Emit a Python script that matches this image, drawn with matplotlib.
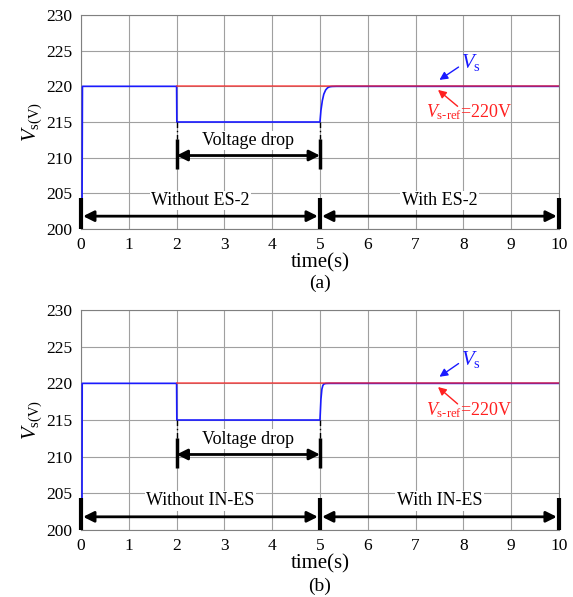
import numpy as np
import matplotlib
matplotlib.use("Agg")
import matplotlib.pyplot as plt

plt.rcParams['font.family'] = ['Liberation Serif', 'DejaVu Serif']
plt.rcParams['mathtext.fontset'] = 'custom'
plt.rcParams['mathtext.rm'] = 'Liberation Serif'
plt.rcParams['mathtext.it'] = 'Liberation Serif:italic'

# Vs waveform, panel (a) - slower recovery after t=5
t_a = [0.02, 0.03, 2.0, 2.005, 5.0, 5.02, 5.05, 5.08, 5.12, 5.16, 5.2, 5.25, 5.35, 10]
v_a = [200, 220, 220, 215, 215, 216.6, 218.0, 218.9, 219.5, 219.8, 219.93, 219.98, 220, 220]
# Vs waveform, panel (b) - faster recovery
t_b = [0.02, 0.025, 2.0, 2.005, 5.0, 5.02, 5.04, 5.06, 5.08, 5.12, 5.2, 10]
v_b = [200, 220, 220, 215, 215, 217.8, 219.2, 219.7, 219.9, 219.98, 220, 220]
# reference voltage
t_ref = [2, 10]
v_ref = [220, 220]

xticks = list(range(0, 11))
yticks = [200, 205, 210, 215, 220, 225, 230]
panels = [
    ("(a)", t_a, v_a, "Without ES-2", "With ES-2"),
    ("(b)", t_b, v_b, "Without IN-ES", "With IN-ES"),
]

fig = plt.figure(figsize=(5.73, 5.97), dpi=100)
rects = [[0.1414, 0.6164, 0.834, 0.3585], [0.1414, 0.1122, 0.834, 0.3685]]

for rect, (tag, t, v, left_txt, right_txt) in zip(rects, panels):
    ax = fig.add_axes(rect)
    ax.plot(t, v, color='#1a1aff', lw=1.2, zorder=3)
    ax.plot(t_ref, v_ref, color='#ff2020', lw=1.3, alpha=0.65, zorder=4)
    ax.set_xlim(0, 10)
    ax.set_ylim(200, 230)
    ax.set_xticks(xticks)
    ax.set_yticks(yticks)
    ax.grid(True, color='#a0a0a0', lw=0.8)
    ax.set_axisbelow(True)
    ax.tick_params(length=0, labelsize=12.5, pad=6)
    for s in ax.spines.values():
        s.set_color('#808080')
        s.set_linewidth(0.8)
    ax.set_ylabel(r'$V_{\mathrm{s(V)}}$', fontsize=15, labelpad=2)
    ax.set_xlabel('time(s)', fontsize=15, labelpad=0)
    ax.text(0.5, -0.255, tag, transform=ax.transAxes, ha='center', va='center', fontsize=14)

    # voltage drop annotation
    for x in (2, 5):
        ax.plot([x, x], [215, 212.6], color='k', lw=1.0, ls=(0, (4, 2, 1, 2)), zorder=5)
        ax.plot([x, x], [212.6, 208.4], color='k', lw=2.5, solid_capstyle='butt', zorder=5)
    ax.annotate('', xy=(5, 210.3), xytext=(2, 210.3),
                arrowprops=dict(arrowstyle='<|-|>', color='k', lw=2, mutation_scale=16,
                                shrinkA=0, shrinkB=0), zorder=6)
    ax.text(3.5, 212.4, 'Voltage drop', ha='center', va='center', fontsize=13,
            bbox=dict(facecolor='white', edgecolor='none', pad=1), zorder=6)

    # with / without annotation
    for x in (0, 5, 10):
        ax.plot([x, x], [200, 204.4], color='k', lw=3, solid_capstyle='butt',
                clip_on=False, zorder=7)
    for x0, x1 in ((0, 5), (5, 10)):
        ax.annotate('', xy=(x1, 201.8), xytext=(x0, 201.8),
                    arrowprops=dict(arrowstyle='<|-|>', color='k', lw=2, mutation_scale=16,
                                    shrinkA=1.5, shrinkB=1.5), zorder=6)
    ax.text(2.5, 204.0, left_txt, ha='center', va='center', fontsize=13,
            bbox=dict(facecolor='white', edgecolor='none', pad=1), zorder=6)
    ax.text(7.5, 204.0, right_txt, ha='center', va='center', fontsize=13,
            bbox=dict(facecolor='white', edgecolor='none', pad=1), zorder=6)

    # Vs / Vs-ref labels
    ax.annotate('', xy=(7.5, 220.9), xytext=(7.9, 222.7),
                arrowprops=dict(arrowstyle='-|>', color='#1a1aff', lw=1, mutation_scale=12,
                                shrinkA=0, shrinkB=0), zorder=6)
    ax.text(7.95, 223.3, r'$V_{\mathrm{s}}$', color='#1a1aff', fontsize=15,
            ha='left', va='center')
    ax.annotate('', xy=(7.47, 219.5), xytext=(7.88, 217.2),
                arrowprops=dict(arrowstyle='-|>', color='#ff2020', lw=1, mutation_scale=12,
                                shrinkA=0, shrinkB=0), zorder=6)
    ax.text(7.22, 216.4, r'$V_{\mathrm{s\text{-}ref}}$=220V', color='#ff2020', fontsize=13,
            ha='left', va='center')

fig.savefig('out.png', dpi=100)
